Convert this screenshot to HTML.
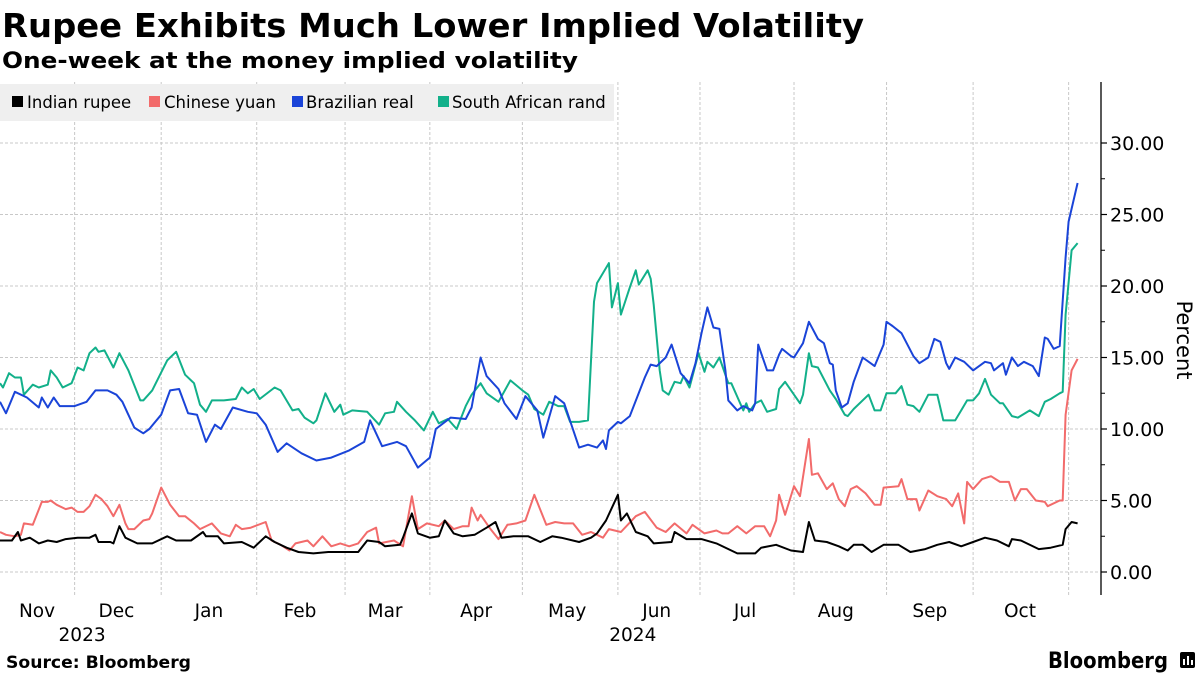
<!DOCTYPE html>
<html><head><meta charset="utf-8">
<style>
html,body{margin:0;padding:0;background:#fff;}
svg{display:block;}
text{font-family:"DejaVu Sans","Liberation Sans",sans-serif;}
</style></head>
<body>
<svg id="chart" width="1200" height="675" viewBox="0 0 1200 675" xmlns="http://www.w3.org/2000/svg">
  <text x="2" y="37" font-size="33" font-weight="bold" fill="#000" textLength="862" lengthAdjust="spacingAndGlyphs">Rupee Exhibits Much Lower Implied Volatility</text>
  <text x="2" y="68" font-size="22" font-weight="bold" fill="#000" textLength="576" lengthAdjust="spacingAndGlyphs">One-week at the money implied volatility</text>
  <g id="grid"></g>
  <g id="series"></g>
  <g id="axes"></g>
  <g id="legend">
    <rect x="0" y="84" width="614" height="37" fill="#efefef"/>
    <g>
      <rect x="12" y="96" width="11" height="11" fill="#000"/>
      <text x="27" y="108" font-size="16.5" fill="#000">Indian rupee</text>
    </g>
    <g>
      <rect x="149" y="96" width="11" height="11" fill="#f26b6b"/>
      <text x="164" y="108" font-size="16.5" fill="#000">Chinese yuan</text>
    </g>
    <g>
      <rect x="292" y="96" width="11" height="11" fill="#1a44d8"/>
      <text x="306" y="108" font-size="16.5" fill="#000">Brazilian real</text>
    </g>
    <g>
      <rect x="438" y="96" width="11" height="11" fill="#12b08a"/>
      <text x="452" y="108" font-size="16.5" fill="#000">South African rand</text>
    </g>
  </g>
  <text x="6" y="668" font-size="17" font-weight="bold" fill="#000" textLength="185" lengthAdjust="spacingAndGlyphs">Source: Bloomberg</text>
  <text x="1048" y="668" font-size="22" font-weight="bold" fill="#000" textLength="120" lengthAdjust="spacingAndGlyphs" font-family="Liberation Sans, sans-serif">Bloomberg</text>
  <g>
    <rect x="1180" y="652" width="15" height="16" rx="2" fill="#000"/>
    <rect x="1183" y="659" width="2" height="6" fill="#fff"/>
    <rect x="1187" y="656" width="2" height="9" fill="#fff"/>
    <rect x="1191" y="660" width="2" height="5" fill="#fff"/>
  </g>
</svg>
<script>
// ---- data (day = days since 26 Oct 2023) ----
const monthLabels = ["Nov","Dec","Jan","Feb","Mar","Apr","May","Jun","Jul","Aug","Sep","Oct"];
const monthLabelDays = [12.4,39,70,100.5,129,159.5,190,220,249.6,280,311.5,341.7];
const gridDays = [25,54,86,115.6,144,175,207,234.5,266,297,326,358];
const yearLabels = ["2023","2024"];
const yearLabelDays = [27.5,212];
const yTicks = [0,5,10,15,20,25,30];
const yTickLabels = ["0.00","5.00","10.00","15.00","20.00","25.00","30.00"];

const brlDays = [0,2,5,9,13,14,16,18,20,25,29,32,36,39,41,45,48,50,54,57,60,63,66,69,72,74,78,83,86,89,93,96,101,106,111,117,122,124,128,133,136,140,144,146,151,156,158,161,163,167,169,173,176,180,182,186,189,194,197,200,202,203,204,207,208,211,216,218,220,223,225,228,231,233,235,237,239,241,243,244,247,249,252,253,254,257,259,261,262,265,266,269,271,274,276,278,279,280,282,284,286,289,293,296,297,299,302,306,308,311,313,315,317,318,320,323,326,330,332,333,336,337,339,341,343,346,348,350,351,353,355,357,358,361];
const brlVals = [11.9,11.1,12.6,12.2,11.5,12.2,11.5,12.2,11.6,11.6,11.9,12.7,12.7,12.4,11.9,10.1,9.7,10.0,11.0,12.7,12.8,11.1,11.0,9.1,10.3,10.0,11.5,11.2,11.1,10.3,8.4,9.0,8.3,7.8,8.0,8.5,9.1,10.6,8.8,9.1,8.8,7.3,8.0,10.0,10.8,10.7,11.5,15.0,13.7,12.8,11.8,10.7,12.3,11.3,9.4,12.3,11.8,8.7,8.9,8.7,9.2,8.6,9.9,10.5,10.4,10.9,13.6,14.5,14.4,15.0,15.9,13.9,13.2,14.6,16.7,18.5,17.1,17.0,14.1,12.0,11.3,11.6,11.3,11.8,15.9,14.1,14.1,15.2,15.6,15.1,15.0,16.0,17.5,16.3,16.0,14.6,14.5,12.7,11.5,11.8,13.3,15.0,14.4,15.9,17.5,17.2,16.7,15.1,14.6,15.0,16.3,16.1,14.6,14.2,15.0,14.7,14.1,14.7,14.6,14.1,14.6,13.8,15.0,14.4,14.7,14.4,13.7,16.4,16.3,15.6,15.8,22.0,24.5,27.2];

const zarDays = [0,1,3,5,7,8,11,13,16,17,19,21,24,26,28,30,32,33,35,38,40,43,47,48,51,56,59,62,65,67,69,71,75,79,81,83,85,87,92,94,98,100,102,105,106,109,112,114,115,118,123,127,129,132,133,136,139,142,145,147,150,153,156,158,161,163,167,171,175,177,179,182,184,187,189,191,194,197,199,200,204,205,207,208,211,213,214,217,218,219,221,222,224,226,228,229,231,234,236,237,239,241,244,245,249,250,251,253,255,257,260,261,263,268,269,271,272,274,278,280,283,284,286,291,293,295,297,300,302,304,306,308,311,314,316,320,322,324,326,328,330,332,335,336,339,341,345,348,350,352,355,356,357,359,361];
const zarVals = [13.2,12.9,13.9,13.6,13.6,12.4,13.1,12.9,13.1,14.1,13.6,12.9,13.2,14.3,14.1,15.3,15.7,15.4,15.5,14.3,15.3,14.1,12.0,12.0,12.7,14.8,15.4,13.8,13.2,11.7,11.2,12.0,12.0,12.1,12.9,12.5,12.8,12.1,12.9,12.7,11.3,11.4,10.8,10.4,10.6,12.5,11.2,11.7,11.0,11.3,11.2,10.3,11.1,11.2,11.9,11.2,10.6,9.9,11.2,10.4,10.7,10.0,11.6,12.4,13.2,12.5,11.9,13.4,12.7,12.4,11.4,11.0,11.9,11.6,11.6,10.5,10.5,10.6,18.9,20.2,21.6,18.5,20.2,18.0,19.9,21.1,20.1,21.1,20.5,18.7,14.1,12.7,12.4,13.3,13.2,13.7,12.9,15.3,14.0,14.7,14.3,15.0,13.2,13.2,11.3,11.8,11.2,11.8,12.0,11.2,11.4,12.8,13.3,11.8,12.4,15.3,14.4,14.3,12.7,12.1,11.0,10.9,11.4,12.4,11.3,11.3,12.5,12.5,13.0,11.7,11.6,11.2,12.4,12.4,10.6,10.6,11.3,12.0,12.0,12.5,13.5,12.4,11.8,11.8,10.9,10.8,11.3,10.9,11.9,12.1,12.5,12.6,18.0,22.5,23.0];

const cnyDays = [0,2,5,7,8,11,14,16,17,19,22,24,26,28,30,32,34,36,38,40,42,43,45,48,50,51,54,57,60,62,65,67,71,74,77,79,81,84,89,91,94,97,99,103,105,108,111,114,117,120,123,126,127,132,135,138,140,143,147,149,152,155,157,158,160,161,164,167,170,173,176,179,183,186,189,192,195,198,202,204,208,213,216,220,223,226,230,232,236,240,242,244,247,250,253,256,258,260,261,263,266,268,271,272,274,277,279,281,283,285,287,290,293,295,296,301,302,304,307,308,311,314,317,319,321,323,324,326,329,332,335,338,340,342,344,347,350,351,355,356,357,359,361];
const cnyVals = [2.8,2.6,2.5,2.6,3.4,3.3,4.9,4.9,5.0,4.7,4.4,4.5,4.2,4.2,4.6,5.4,5.1,4.6,3.9,4.7,3.4,3.0,3.0,3.6,3.7,4.1,5.9,4.7,3.9,3.9,3.4,3.0,3.4,2.7,2.5,3.3,3.0,3.1,3.5,2.2,1.9,1.5,2.0,2.2,1.8,2.5,1.8,2.0,1.8,2.0,2.8,3.1,2.0,2.2,1.8,5.3,3.0,3.4,3.2,3.6,3.0,3.2,3.2,4.5,3.6,4.0,3.1,2.3,3.3,3.4,3.6,5.4,3.3,3.5,3.4,3.4,2.6,2.8,2.4,3.0,2.8,3.9,4.2,3.1,2.8,3.4,2.7,3.3,2.7,2.9,2.7,2.7,3.2,2.7,3.2,3.2,2.5,3.6,5.4,4.0,6.0,5.3,9.3,6.8,6.9,5.8,6.2,5.1,4.6,5.8,6.0,5.5,4.7,4.7,5.9,6.0,6.5,5.1,5.1,4.3,5.7,5.3,5.1,4.6,5.5,3.4,6.3,5.8,6.5,6.7,6.3,6.3,5.0,5.8,5.8,5.0,4.9,4.6,5.0,5.0,11.0,14.1,14.9];

const inrDays = [0,4,6,7,10,13,16,19,22,26,30,32,33,37,38,40,42,46,51,56,59,64,68,69,73,75,81,85,89,92,96,100,105,110,115,120,123,127,129,134,135,138,140,144,147,149,152,155,159,163,166,168,172,177,181,185,188,194,198,200,203,207,208,210,213,217,219,225,226,230,235,240,247,253,255,260,265,269,271,273,277,281,284,286,289,292,296,301,305,310,314,318,322,326,330,334,338,339,342,348,352,356,357,359,361];
const inrVals = [2.2,2.2,2.8,2.2,2.4,2.0,2.2,2.1,2.3,2.4,2.4,2.6,2.1,2.1,2.0,3.2,2.4,2.0,2.0,2.5,2.2,2.2,2.8,2.5,2.5,2.0,2.1,1.7,2.5,2.1,1.7,1.4,1.3,1.4,1.4,1.4,2.2,2.1,1.8,1.9,2.4,4.1,2.7,2.4,2.5,3.6,2.7,2.5,2.6,3.1,3.5,2.4,2.5,2.5,2.1,2.5,2.4,2.1,2.4,2.7,3.6,5.4,3.6,4.1,2.8,2.5,2.0,2.1,2.8,2.3,2.3,2.0,1.3,1.3,1.7,1.9,1.5,1.4,3.5,2.2,2.1,1.8,1.5,1.9,1.9,1.4,1.9,1.9,1.4,1.6,1.9,2.1,1.8,2.1,2.4,2.2,1.8,2.3,2.2,1.6,1.7,1.9,3.0,3.5,3.4];

// ---- scales ----
const PXPERDAY = 2.985;
function xScale(d){ return d * PXPERDAY; }
function yScale(v){ return 572 - v * 14.3; }

const NS = "http://www.w3.org/2000/svg";
function mk(tag, attrs, parent){
  const e = document.createElementNS(NS, tag);
  for (const k in attrs) e.setAttribute(k, attrs[k]);
  parent.appendChild(e);
  return e;
}
const grid = document.getElementById('grid');
const axes = document.getElementById('axes');
const series = document.getElementById('series');

yTicks.forEach((v,i)=>{
  const y = yScale(v);
  const gl = mk('line',{x1:0,x2:1100,y1:y,y2:y,stroke:'#c8c8c8','stroke-width':1,'stroke-dasharray':'3,2'},grid);
  
  
  const tk = mk('line',{x1:1101,x2:1107,y1:y,y2:y,stroke:'#000','stroke-width':1.2},axes);
  
  
  const tl = mk('text',{x:1110,y:y+7,'font-size':19,fill:'#000'},axes);
  tl.textContent = yTickLabels[i];
  
  
  if (v < 30) {
    const ym = yScale(v + 2.5);
    const mt = mk('line',{x1:1101,x2:1105,y1:ym,y2:ym,stroke:'#000','stroke-width':1},axes);
    
    
  }
});
gridDays.forEach(d=>{
  const x = xScale(d);
  const gl = mk('line',{x1:x,x2:x,y1:82,y2:595,stroke:'#c8c8c8','stroke-width':1,'stroke-dasharray':'3,2'},grid);
  
  
});
const yl = mk('line',{x1:1101,x2:1101,y1:82,y2:595,stroke:'#000','stroke-width':1.3},axes);


const yt = mk('text',{x:0,y:0,'font-size':21,fill:'#000',transform:'translate(1177,340) rotate(90)','text-anchor':'middle'},axes);
yt.textContent = 'Percent';



monthLabels.forEach((m,i)=>{
  const t = mk('text',{x:xScale(monthLabelDays[i]),y:617,'font-size':18.5,fill:'#000','text-anchor':'middle'},axes);
  t.textContent = m;
  
  
});
yearLabels.forEach((yv,i)=>{
  const t = mk('text',{x:xScale(yearLabelDays[i]),y:641,'font-size':18.5,fill:'#000','text-anchor':'middle'},axes);
  t.textContent = yv;
  
  
});

function drawLine(days, vals, color, name){
  const pts = days.map((d,i)=> xScale(d).toFixed(1)+','+yScale(vals[i]).toFixed(1)).join(' ');
  const p = mk('polyline',{points:pts,fill:'none',stroke:color,'stroke-width':2,'stroke-linejoin':'round'},series);
  
  
}
drawLine(zarDays, zarVals, '#12b08a', 'line-south-african-rand');
drawLine(brlDays, brlVals, '#1a44d8', 'line-brazilian-real');
drawLine(cnyDays, cnyVals, '#f26b6b', 'line-chinese-yuan');
drawLine(inrDays, inrVals, '#000000', 'line-indian-rupee');
</script>
</body></html>
